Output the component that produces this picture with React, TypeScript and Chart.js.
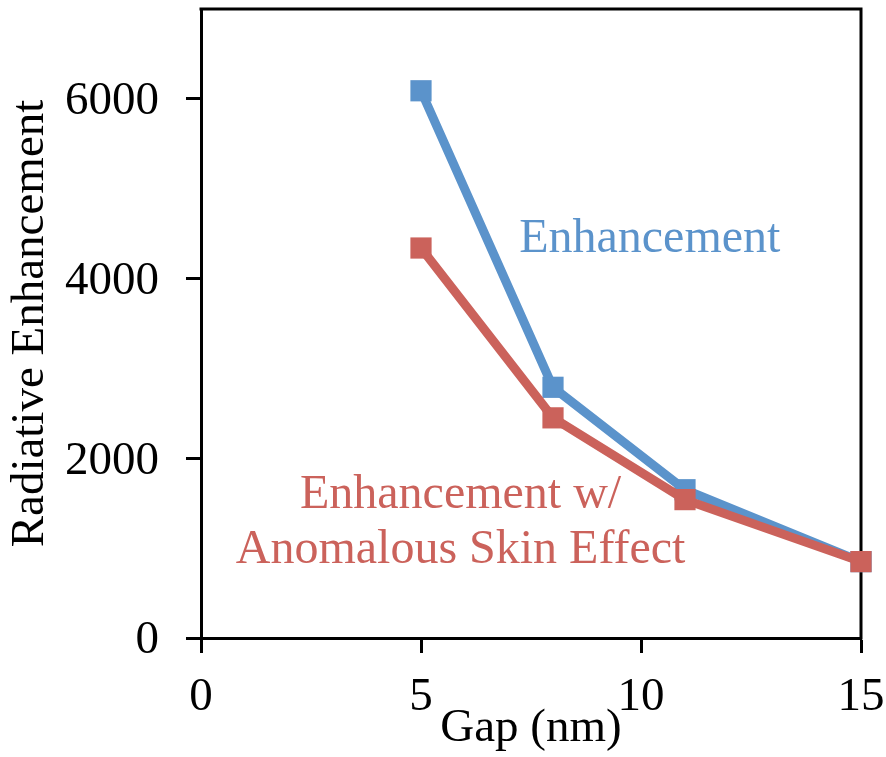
import React, { useEffect, useRef } from 'react';
import { Chart, registerables } from 'chart.js';

Chart.register(...registerables);

// ---- data ----
const gapNm = [5, 8, 11, 15];
const enhancement = [6090, 2790, 1650, 850];
const enhancementSkin = [4340, 2450, 1540, 850];
const xTicks = [0, 5, 10, 15];
const yTicks = [0, 2000, 4000, 6000];
const blueLabel = ['Enhancement'];
const redLabel = ['Enhancement w/', 'Anomalous Skin Effect'];
const xTitle = 'Gap (nm)';
const yTitle = 'Radiative Enhancement';

// ---- style ----
const BLUE = '#5B93CB';
const RED = '#CB625B';
const FONT = '"Liberation Serif", "Times New Roman", Times, serif';
const FS = 47;
const FS_NOTE = 48;

const overlay = {
  id: 'overlay',
  beforeDatasetsDraw(chart: any) {
    const { ctx, chartArea: a } = chart;
    ctx.save();
    ctx.strokeStyle = '#000';
    ctx.lineWidth = 3;
    ctx.lineCap = 'square';
    ctx.beginPath();
    ctx.moveTo(a.left, a.top);
    ctx.lineTo(a.right, a.top);
    ctx.lineTo(a.right, a.bottom);
    ctx.stroke();
    ctx.restore();
  },
  afterDraw(chart: any) {
    const { ctx } = chart;
    const xs = chart.scales.x;
    const ys = chart.scales.y;
    ctx.save();
    ctx.font = `${FS_NOTE}px ${FONT}`;
    ctx.textAlign = 'center';
    ctx.textBaseline = 'alphabetic';
    ctx.fillStyle = BLUE;
    ctx.fillText(blueLabel[0], xs.getPixelForValue(10.2), ys.getPixelForValue(4300));
    ctx.fillStyle = RED;
    ctx.fillText(redLabel[0], xs.getPixelForValue(5.9), ys.getPixelForValue(1444));
    ctx.fillText(redLabel[1], xs.getPixelForValue(5.9), ys.getPixelForValue(833));
    ctx.restore();
  },
};

function fixX(scale: any) {
  scale.height = 119;
  scale.paddingLeft = 0;
  scale.paddingRight = 0;
  scale.paddingTop = 0;
  scale.paddingBottom = 0;
}
function fixY(scale: any) {
  scale.width = 201;
  scale.paddingLeft = 0;
  scale.paddingRight = 0;
  scale.paddingTop = 0;
  scale.paddingBottom = 0;
}

export default function App() {
  const ref = useRef<HTMLCanvasElement>(null);
  useEffect(() => {
    if (!ref.current) return;
    const chart = new Chart(ref.current, {
      type: 'line',
      data: {
        datasets: [
          {
            label: redLabel.join(' '),
            data: gapNm.map((x, i) => ({ x, y: enhancementSkin[i] })),
            borderColor: RED,
            backgroundColor: RED,
            borderWidth: 9,
            pointStyle: 'rect',
            pointRadius: 15,
            pointBackgroundColor: RED,
            pointBorderColor: RED,
            pointBorderWidth: 0,
            clip: false,
          },
          {
            label: blueLabel[0],
            data: gapNm.map((x, i) => ({ x, y: enhancement[i] })),
            borderColor: BLUE,
            backgroundColor: BLUE,
            borderWidth: 9,
            pointStyle: 'rect',
            pointRadius: 15,
            pointBackgroundColor: BLUE,
            pointBorderColor: BLUE,
            pointBorderWidth: 0,
            clip: false,
          },
        ],
      },
      options: {
        animation: false,
        responsive: false,
        layout: { autoPadding: false, padding: { top: 9, right: 25, left: 0, bottom: 0 } },
        plugins: { legend: { display: false }, tooltip: { enabled: false } },
        scales: {
          x: {
            type: 'linear',
            min: 0,
            max: 15,
            afterBuildTicks: (s: any) => {
              s.ticks = xTicks.map((v) => ({ value: v }));
            },
            afterFit: fixX,
            grid: { drawOnChartArea: false, drawTicks: true, tickLength: 15, tickWidth: 3, color: '#000', tickColor: '#000' },
            border: { display: true, color: '#000', width: 3 },
            ticks: {
              color: '#000',
              font: { family: FONT, size: FS },
              padding: 16,
              autoSkip: false,
              maxRotation: 0,
              callback: (v: any) => String(v),
            },
            title: { display: true, text: xTitle, color: '#000', font: { family: FONT, size: FS }, padding: { top: 6, bottom: 0 } },
          },
          y: {
            type: 'linear',
            min: 0,
            max: 7000,
            afterBuildTicks: (s: any) => {
              s.ticks = yTicks.map((v) => ({ value: v }));
            },
            afterFit: fixY,
            grid: { drawOnChartArea: false, drawTicks: true, tickLength: 15, tickWidth: 3, color: '#000', tickColor: '#000' },
            border: { display: true, color: '#000', width: 3 },
            ticks: {
              color: '#000',
              font: { family: FONT, size: FS },
              padding: 27,
              labelOffset: 3,
              callback: (v: any) => String(v),
            },
            title: { display: true, text: yTitle, color: '#000', font: { family: FONT, size: FS }, padding: { top: 2, bottom: 0 } },
          },
        },
      },
      plugins: [overlay],
    });
    return () => chart.destroy();
  }, []);
  return (
    <canvas
      ref={ref}
      width={886}
      height={757}
      style={{ position: 'absolute', left: 0, top: 0, display: 'block' }}
    />
  );
}
